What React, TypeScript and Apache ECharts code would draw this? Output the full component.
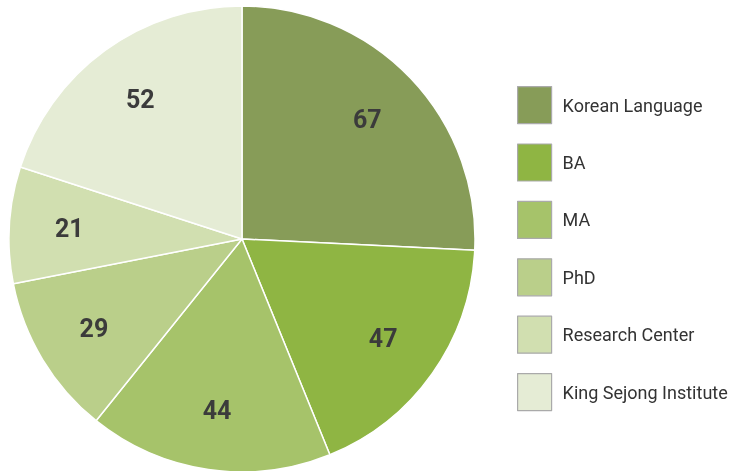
import React, { useEffect, useRef } from "react";
import * as echarts from "echarts";

const categories = ["Korean Language", "BA", "MA", "PhD", "Research Center", "King Sejong Institute"];
const values = [67, 47, 44, 29, 21, 52];
const colors = ["#879c58", "#8fb543", "#a6c36a", "#bacf8a", "#d1dfb0", "#e5ecd5"];

export default function App() {
  const ref = useRef<HTMLDivElement>(null);
  useEffect(() => {
    if (!ref.current) return;
    const chart = echarts.init(ref.current, undefined, { renderer: "svg" });
    const data = categories.map((name, i) => ({ name, value: values[i], itemStyle: { color: colors[i] } }));
    chart.setOption({
      animation: false,
      textStyle: { fontFamily: "Roboto" },
      legend: {
        orient: "vertical",
        left: 517,
        top: 86,
        padding: 0,
        itemWidth: 34,
        itemHeight: 37,
        itemGap: 19.2,
        icon: "rect",
        itemStyle: { borderColor: "#aaaaaa", borderWidth: 1.2 },
        textStyle: { fontFamily: "Roboto", fontSize: 18, color: "#333333", padding: [0, 0, 0, 6] },
        data: categories,
      },
      series: [
        {
          type: "pie",
          center: [242, 239],
          radius: [0, 233],
          startAngle: 90,
          clockwise: true,
          label: { show: false },
          labelLine: { show: false },
          itemStyle: { borderColor: "#ffffff", borderWidth: 1.5 },
          data,
        },
        {
          type: "pie",
          center: [242, 239],
          radius: [107, 233],
          startAngle: 90,
          clockwise: true,
          silent: true,
          legendHoverLink: false,
          itemStyle: { color: "rgba(0,0,0,0)", borderWidth: 0 },
          label: {
            show: true,
            position: "inside",
            formatter: "{c}",
            fontFamily: "Roboto",
            fontWeight: "bold",
            fontSize: 25,
            color: "#3b3b3b",
          },
          labelLine: { show: false },
          data: categories.map((name, i) => ({ name: name + " ", value: values[i] })),
        },
      ],
    });
    return () => chart.dispose();
  }, []);
  return <div ref={ref} style={{ position: "fixed", left: 0, top: 0, width: 732, height: 471 }} />;
}
